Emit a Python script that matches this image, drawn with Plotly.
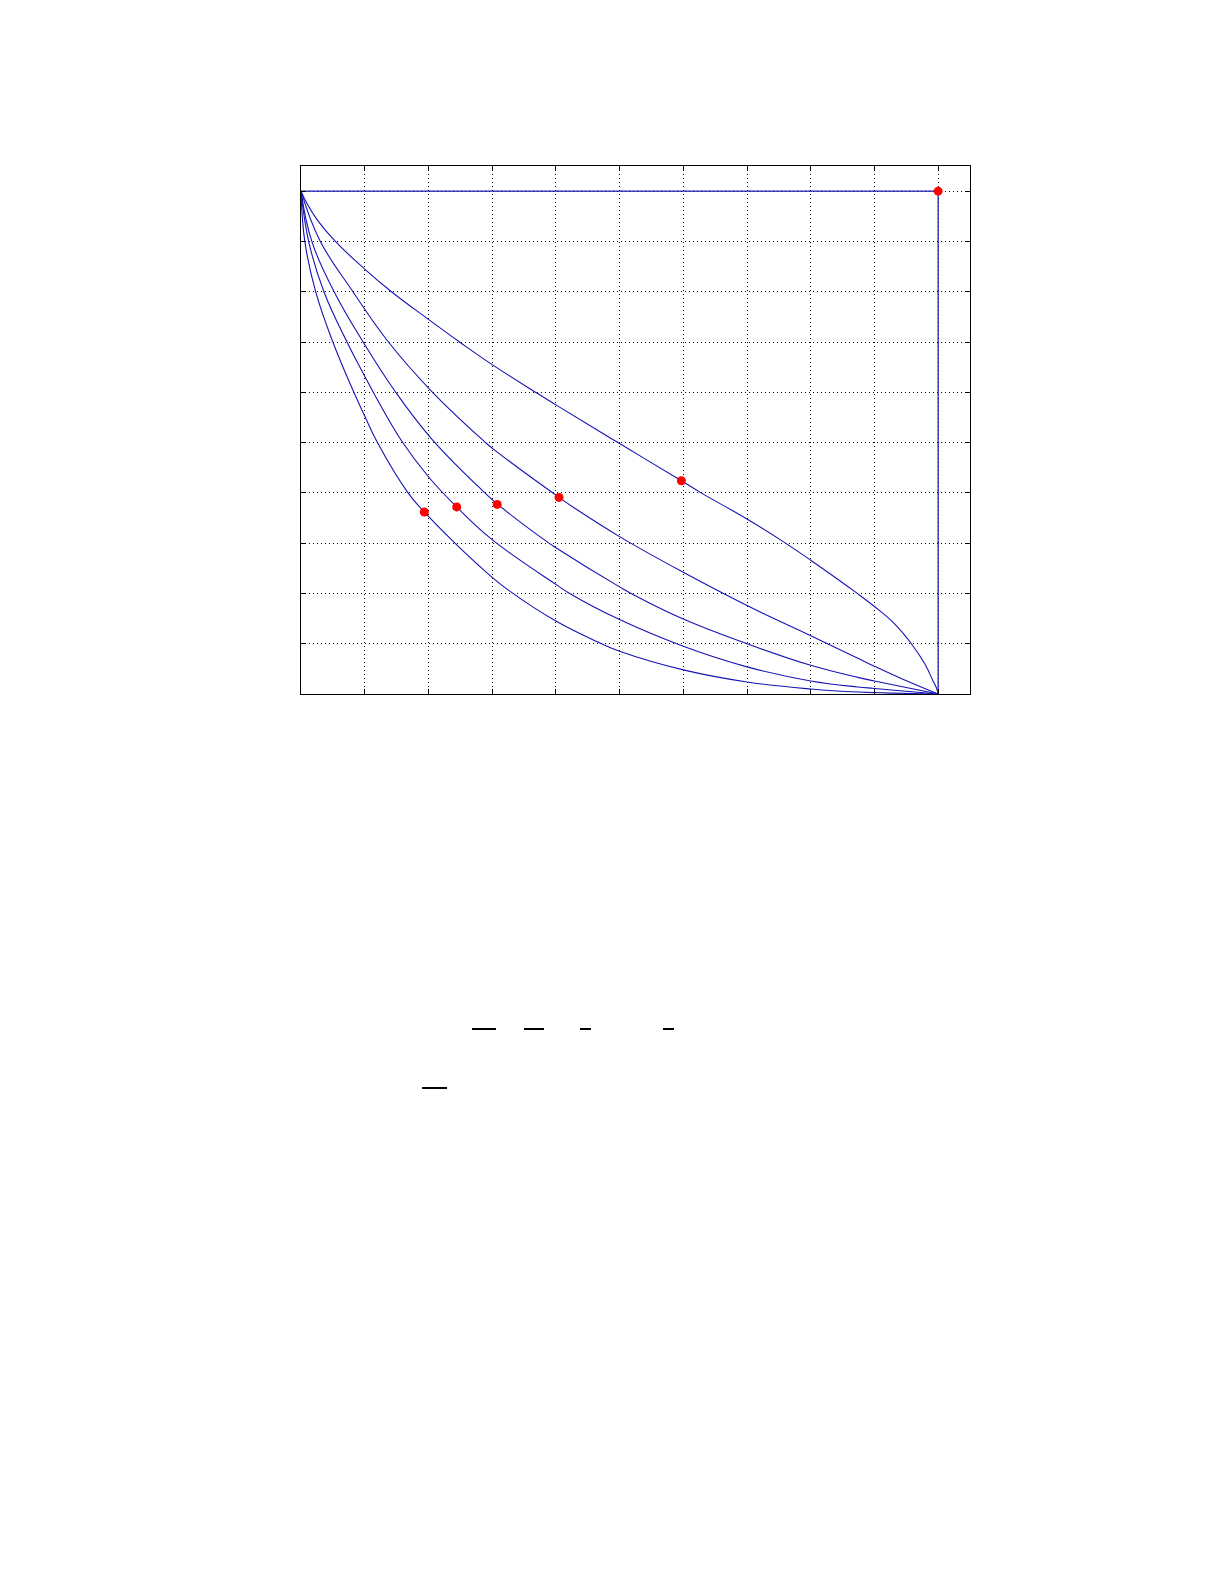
import plotly.graph_objects as go

# ---- data ----
tick_vals = [0.0, 0.1, 0.2, 0.3, 0.4, 0.5, 0.6, 0.7, 0.8, 0.9, 1.0]

limit_x = [0.0, 1.0, 1.0]
limit_y = [1.0, 1.0, 0.0]

curve1_x = [0, 0.0105, 0.026, 0.054, 0.1, 0.141, 0.2, 0.25, 0.3, 0.372, 0.4, 0.461, 0.5,
            0.597, 0.628, 0.7, 0.758, 0.8, 0.872, 0.9, 0.932, 0.958, 0.979, 0.992, 0.998, 1.0]
curve1_y = [1, 0.973, 0.942, 0.900, 0.845, 0.801, 0.745, 0.699, 0.655, 0.597, 0.575, 0.528, 0.498,
            0.424, 0.400, 0.348, 0.302, 0.266, 0.201, 0.174, 0.139, 0.100, 0.060, 0.026, 0.010, 0]

curve2_x = [0, 0.03, 0.081, 0.136, 0.205, 0.288, 0.3, 0.405, 0.429, 0.5, 0.6, 0.7, 0.8,
            0.874, 0.9, 0.942, 1.0]
curve2_y = [1, 0.901, 0.801, 0.702, 0.602, 0.502, 0.489, 0.391, 0.370, 0.313, 0.242, 0.176, 0.116,
            0.071, 0.055, 0.031, 0]

curve3_x = [0, 0.017, 0.052, 0.098, 0.147, 0.206, 0.287, 0.308, 0.387, 0.4, 0.5, 0.518,
            0.6, 0.7, 0.8, 0.874, 0.9, 1.0]
curve3_y = [1, 0.900, 0.800, 0.699, 0.603, 0.506, 0.402, 0.378, 0.302, 0.291, 0.213, 0.200,
            0.149, 0.100, 0.057, 0.033, 0.026, 0]

curve4_x = [0, 0.012, 0.036, 0.073, 0.1, 0.116, 0.157, 0.2, 0.2444, 0.3, 0.4, 0.419,
            0.5, 0.6, 0.7, 0.8, 0.874, 0.9, 1.0]
curve4_y = [1, 0.900, 0.800, 0.698, 0.632, 0.594, 0.505, 0.432, 0.372, 0.307, 0.218, 0.202,
            0.148, 0.095, 0.054, 0.026, 0.014, 0.011, 0]

curve5_x = [0, 0.006, 0.023, 0.050, 0.083, 0.1, 0.120, 0.168, 0.1935, 0.24, 0.3, 0.326,
            0.4, 0.470, 0.5, 0.6, 0.7, 0.8, 0.874, 1.0]
curve5_y = [1, 0.9, 0.8, 0.7, 0.6, 0.553, 0.5, 0.4, 0.362, 0.302, 0.232, 0.206,
            0.145, 0.101, 0.085, 0.048, 0.024, 0.010, 0.004, 0]

marker_x = [0.1935, 0.2444, 0.308, 0.405, 0.597, 1.0]
marker_y = [0.362, 0.372, 0.377, 0.391, 0.424, 1.0]

# ---- figure ----
BLUE = "#1414b4"
fig = go.Figure()

fig.add_trace(go.Scatter(x=limit_x, y=limit_y, mode="lines",
                         line=dict(color=BLUE, width=1.2), hoverinfo="skip"))
for cx, cy in [(curve1_x, curve1_y), (curve2_x, curve2_y), (curve3_x, curve3_y),
               (curve4_x, curve4_y), (curve5_x, curve5_y)]:
    fig.add_trace(go.Scatter(x=cx, y=cy, mode="lines",
                             line=dict(color=BLUE, width=1.1, shape="spline", smoothing=1.2),
                             hoverinfo="skip"))

fig.add_trace(go.Scatter(x=marker_x, y=marker_y, mode="markers",
                         marker=dict(color="#ff0000", size=9, line=dict(width=0)),
                         hoverinfo="skip"))

axis_common = dict(
    range=[0, 1.05], tickvals=tick_vals, showticklabels=False,
    ticks="inside", ticklen=5, tickwidth=1, tickcolor="black",
    showline=True, linecolor="black", linewidth=1, mirror="ticks",
    showgrid=True, gridcolor="black", gridwidth=1, griddash="1px,3px",
    zeroline=False, fixedrange=True,
)
fig.update_xaxes(**axis_common)
fig.update_yaxes(**axis_common)

# fraction bars of the (unrendered) caption text below the plot
L, R, T, B = 293, 263, 158, 899
W, H = 1225, 1585
pw, ph = W - L - R, H - T - B


def px2paper(px, py):
    return (px - L) / pw, (H - B - py) / ph


bars = [(464, 488, 1021), (516, 536, 1021), (572, 583, 1021), (655, 666, 1021), (414, 439, 1080)]
for x0, x1, yy in bars:
    a = px2paper(x0, yy)
    b = px2paper(x1, yy)
    fig.add_shape(type="line", xref="paper", yref="paper", x0=a[0], y0=a[1], x1=b[0], y1=b[1],
                  line=dict(color="black", width=2))

fig.update_layout(
    width=W, height=H,
    margin=dict(l=L, r=R, t=T, b=B, pad=0),
    paper_bgcolor="white", plot_bgcolor="white",
    showlegend=False,
    font=dict(family="DejaVu Sans", color="black"),
)

fig.write_html("out.html")
